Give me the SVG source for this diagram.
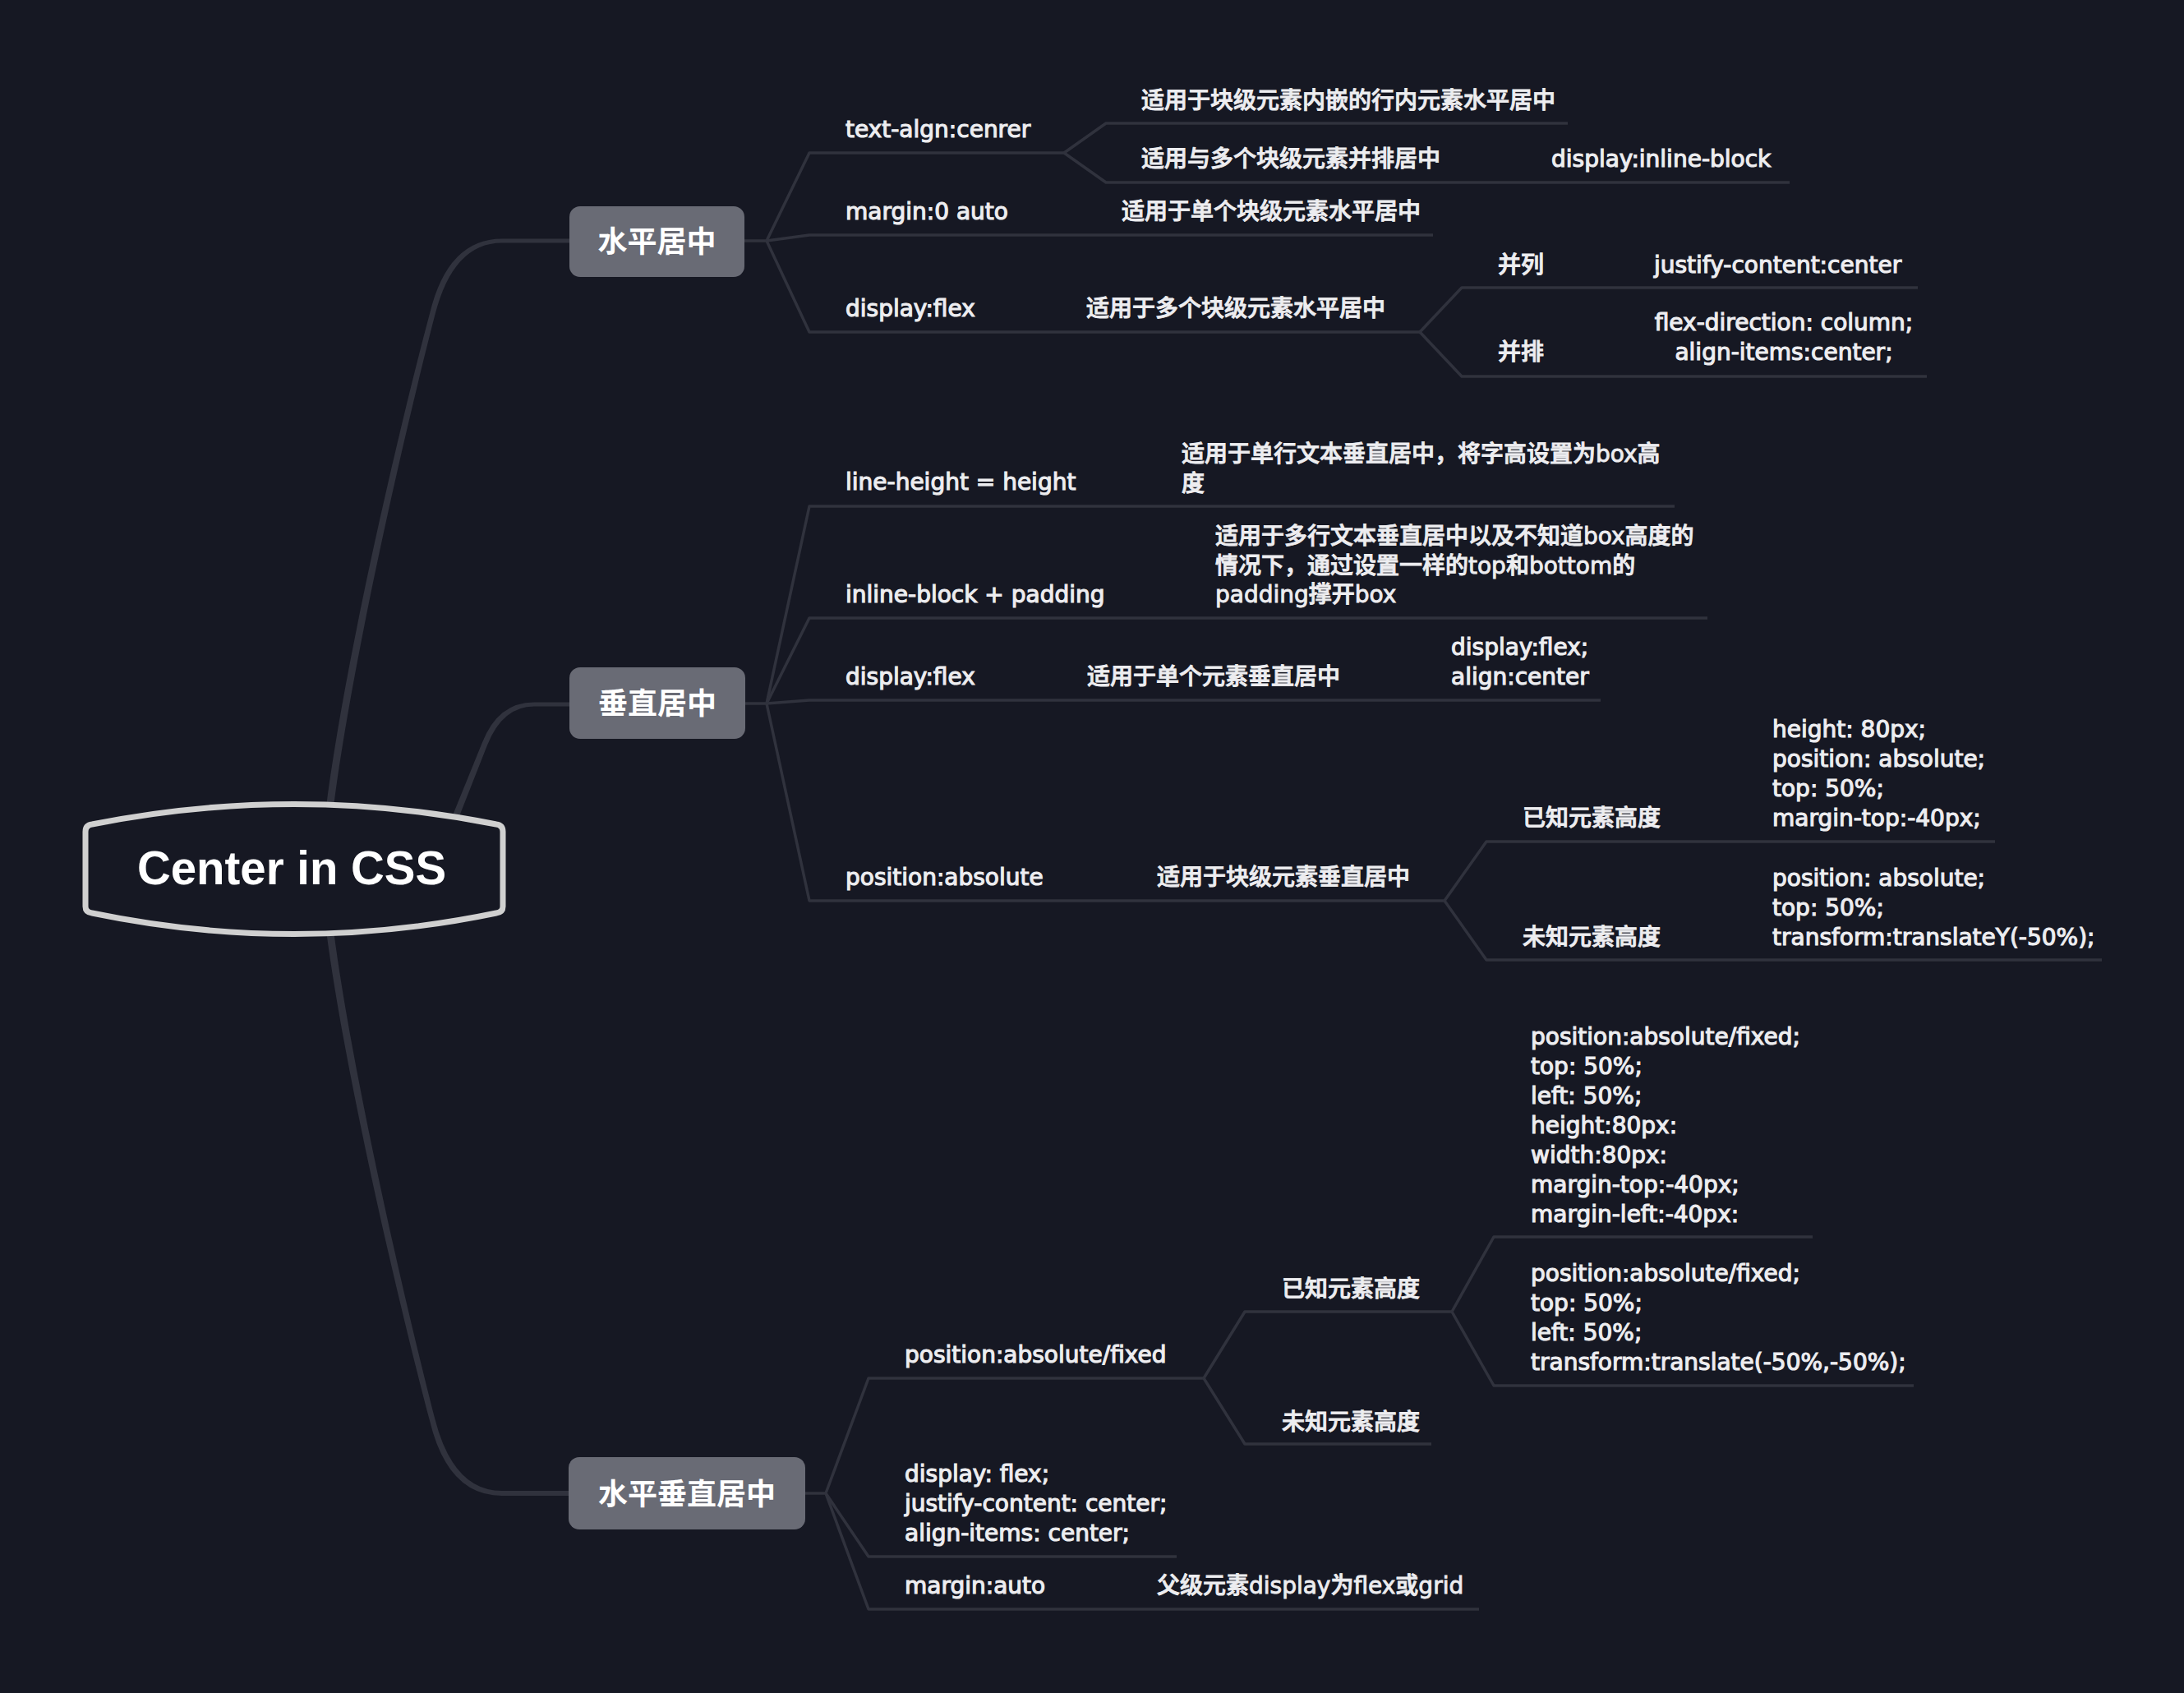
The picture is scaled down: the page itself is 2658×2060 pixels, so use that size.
<svg xmlns="http://www.w3.org/2000/svg" width="2658" height="2060" viewBox="0 0 2658 2060">
<style>
.bg{fill:#161823}
.ln{fill:none;stroke:#30323d;stroke-width:3.5;stroke-linejoin:round;stroke-linecap:butt}
.br{fill:#30323d}
.box{fill:#696b75}
.t{font-family:"DejaVu Sans","Noto Sans CJK SC",sans-serif;font-size:28px;font-weight:500;fill:#ededf0;stroke:#ededf0;stroke-width:0.9}
.l{stroke-width:1.15}
.c{text-anchor:middle}
.n{font-family:"Noto Sans CJK SC",sans-serif;font-size:36px;font-weight:700;fill:#ffffff;text-anchor:middle}
.root{fill:#161823;stroke:#d0d0d0;stroke-width:7;stroke-linejoin:round}
.rt{font-family:"Liberation Sans",Arial,sans-serif;font-size:58px;font-weight:700;fill:#ffffff;text-anchor:middle}
</style>
<rect class="bg" x="0" y="0" width="2658" height="2060"/>

<g id="connectors">
  <path class="br" d="M397.5 1000 L397.5 978 C420.5 800 486 520 522.8 382.2 Q544.8 290.5 611 290.5 L693 290.5 L693 295.5 L611 295.5 Q551.5 295.5 529.2 383.8 C494 520 429.5 800 406.5 978 L406.5 1000 Z"/>
  <path class="br" d="M548.3 998.5 L586.8 903.8 Q606 854.5 650 854.5 L693 854.5 L693 859.5 L650 859.5 Q612 859.5 593.2 906.2 L555.7 1001.5 Z"/>
  <path class="br" d="M397.5 1120 L397.5 1136 C420.5 1310 486 1590 522.8 1728 Q544.8 1820 611 1820 L693 1820 L693 1814 L611 1814 Q551.5 1814 529.2 1726 C494 1590 429.5 1310 406.5 1136 L406.5 1120 Z"/>
  <path class="ln" d="M906 293 H933"/>
  <path class="ln" d="M933 293 L985 186 H1295"/>
  <path class="ln" d="M1295 186 L1346 150 H1908"/>
  <path class="ln" d="M1295 186 L1346 222 H2178"/>
  <path class="ln" d="M933 293 L985 286 H1744"/>
  <path class="ln" d="M933 293 L985 404 H1728"/>
  <path class="ln" d="M1728 404 L1779 350 H2334"/>
  <path class="ln" d="M1728 404 L1779 458 H2345"/>
  <path class="ln" d="M907 856 H933"/>
  <path class="ln" d="M933 856 L985 616 H2038"/>
  <path class="ln" d="M933 856 L985 752 H2078"/>
  <path class="ln" d="M933 856 L985 852 H1948"/>
  <path class="ln" d="M933 856 L985 1096 H1758"/>
  <path class="ln" d="M1758 1096 L1809 1024 H2428"/>
  <path class="ln" d="M1758 1096 L1809 1168 H2558"/>
  <path class="ln" d="M980 1817 H1005"/>
  <path class="ln" d="M1005 1817 L1057 1677 H1465"/>
  <path class="ln" d="M1465 1677 L1515 1596 H1767"/>
  <path class="ln" d="M1465 1677 L1515 1757 H1742"/>
  <path class="ln" d="M1767 1596 L1818 1505 H2206"/>
  <path class="ln" d="M1767 1596 L1818 1686 H2329"/>
  <path class="ln" d="M1005 1817 L1057 1894 H1432"/>
  <path class="ln" d="M1005 1817 L1057 1958 H1800"/>
</g>

<g id="root">
  <path class="root" d="M104 1012 Q104 1004 112 1003 Q358 954 604 1003 Q612 1004 612 1012 L612 1103 Q612 1110 604 1111 Q358 1162 112 1111 Q104 1110 104 1103 Z"/>
  <text class="rt" x="355" y="1076" textLength="376" lengthAdjust="spacingAndGlyphs">Center in CSS</text>
</g>

<g id="n-h">
  <rect class="box" x="693" y="251" width="213" height="86" rx="13"/>
  <text class="n" x="799.5" y="307">水平居中</text>
</g>
<g id="n-v">
  <rect class="box" x="693" y="812" width="214" height="87" rx="13"/>
  <text class="n" x="800" y="869">垂直居中</text>
</g>
<g id="n-hv">
  <rect class="box" x="692" y="1773" width="288" height="88" rx="13"/>
  <text class="n" x="836" y="1831">水平垂直居中</text>
</g>

<g id="h1"><text class="t l" x="1029" y="167">text-algn:cenrer</text></g>
<g id="h1a"><text class="t" x="1389" y="132">适用于块级元素内嵌的行内元素水平居中</text></g>
<g id="h1b"><text class="t" x="1389" y="203">适用与多个块级元素并排居中</text></g>
<g id="h1b1"><text class="t l" x="1888" y="203">display:inline-block</text></g>
<g id="h2"><text class="t l" x="1029" y="267">margin:0 auto</text></g>
<g id="h2a"><text class="t" x="1365" y="267">适用于单个块级元素水平居中</text></g>
<g id="h3"><text class="t l" x="1029" y="385">display:flex</text></g>
<g id="h3a"><text class="t" x="1322" y="385">适用于多个块级元素水平居中</text></g>
<g id="h3a1"><text class="t" x="1823" y="332">并列</text></g>
<g id="h3a1a"><text class="t l" x="2013" y="332">justify-content:center</text></g>
<g id="h3a2"><text class="t" x="1823" y="438">并排</text></g>
<g id="h3a2a"><text class="t l c" x="2171" y="402">flex-direction: column;</text><text class="t l c" x="2171" y="438">align-items:center;</text></g>

<g id="v1"><text class="t l" x="1029" y="596">line-height = height</text></g>
<g id="v1a"><text class="t" x="1438" y="562">适用于单行文本垂直居中，将字高设置为box高</text><text class="t" x="1438" y="598">度</text></g>
<g id="v2"><text class="t l" x="1029" y="733">inline-block + padding</text></g>
<g id="v2a"><text class="t" x="1479" y="662">适用于多行文本垂直居中以及不知道box高度的</text><text class="t" x="1479" y="698">情况下，通过设置一样的top和bottom的</text><text class="t" x="1479" y="733">padding撑开box</text></g>
<g id="v3"><text class="t l" x="1029" y="833">display:flex</text></g>
<g id="v3a"><text class="t" x="1323" y="833">适用于单个元素垂直居中</text></g>
<g id="v3a1"><text class="t l" x="1766" y="797">display:flex;</text><text class="t l" x="1766" y="833">align:center</text></g>
<g id="v4"><text class="t l" x="1029" y="1077">position:absolute</text></g>
<g id="v4a"><text class="t" x="1408" y="1077">适用于块级元素垂直居中</text></g>
<g id="v4a1"><text class="t" x="1853" y="1005">已知元素高度</text></g>
<g id="v4a1a"><text class="t l" x="2157" y="897">height: 80px;</text><text class="t l" x="2157" y="933">position: absolute;</text><text class="t l" x="2157" y="969">top: 50%;</text><text class="t l" x="2157" y="1005">margin-top:-40px;</text></g>
<g id="v4a2"><text class="t" x="1853" y="1150">未知元素高度</text></g>
<g id="v4a2a"><text class="t l" x="2157" y="1078">position: absolute;</text><text class="t l" x="2157" y="1114">top: 50%;</text><text class="t l" x="2157" y="1150">transform:translateY(-50%);</text></g>

<g id="hv1"><text class="t l" x="1101" y="1658">position:absolute/fixed</text></g>
<g id="hv1a"><text class="t" x="1560" y="1578">已知元素高度</text></g>
<g id="hv1a1"><text class="t l" x="1863" y="1271">position:absolute/fixed;</text><text class="t l" x="1863" y="1307">top: 50%;</text><text class="t l" x="1863" y="1343">left: 50%;</text><text class="t l" x="1863" y="1379">height:80px:</text><text class="t l" x="1863" y="1415">width:80px:</text><text class="t l" x="1863" y="1451">margin-top:-40px;</text><text class="t l" x="1863" y="1487">margin-left:-40px:</text></g>
<g id="hv1a2"><text class="t l" x="1863" y="1559">position:absolute/fixed;</text><text class="t l" x="1863" y="1595">top: 50%;</text><text class="t l" x="1863" y="1631">left: 50%;</text><text class="t l" x="1863" y="1667">transform:translate(-50%,-50%);</text></g>
<g id="hv1b"><text class="t" x="1560" y="1740">未知元素高度</text></g>
<g id="hv2"><text class="t l" x="1101" y="1803">display: flex;</text><text class="t l" x="1101" y="1839">justify-content: center;</text><text class="t l" x="1101" y="1875">align-items: center;</text></g>
<g id="hv3"><text class="t l" x="1101" y="1939">margin:auto</text></g>
<g id="hv3a"><text class="t" x="1408" y="1939">父级元素display为flex或grid</text></g>
</svg>
